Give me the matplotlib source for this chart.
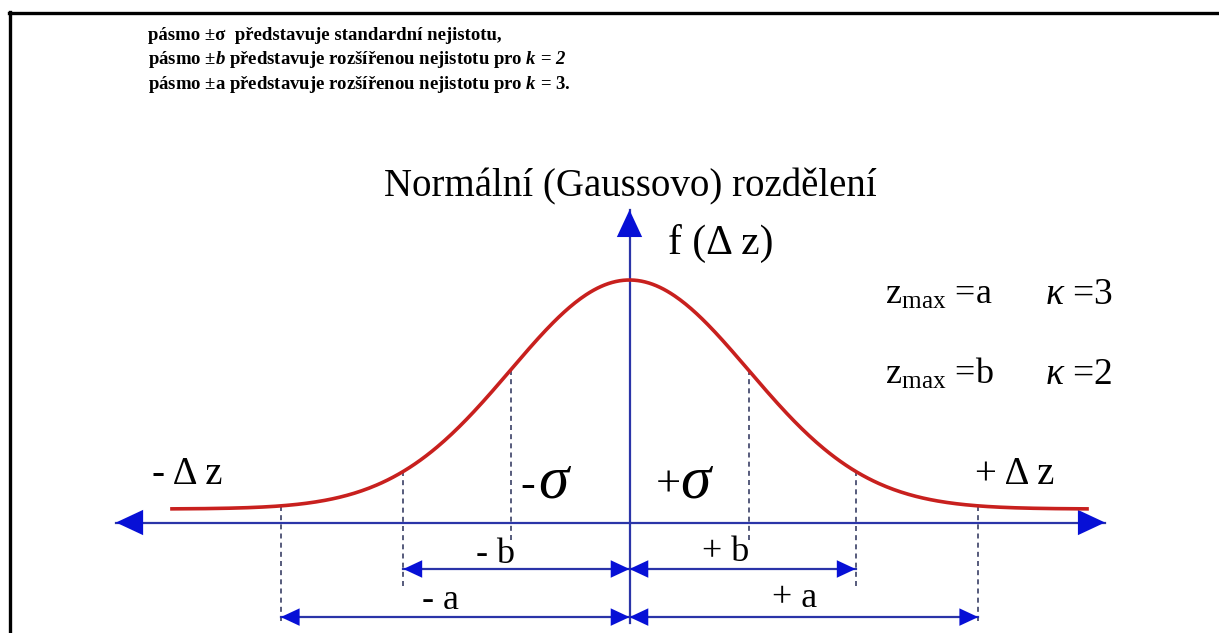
import numpy as np
import matplotlib.pyplot as plt
from matplotlib.lines import Line2D

plt.rcParams['mathtext.fontset'] = 'custom'
plt.rcParams['mathtext.rm'] = 'Liberation Serif'
plt.rcParams['mathtext.it'] = 'Liberation Serif:italic'
plt.rcParams['mathtext.bf'] = 'Liberation Serif:bold'
plt.rcParams['mathtext.bfit'] = 'Liberation Serif:bold:italic'

#----text of the picture----
header_lines = [
    "pásmo ±σ  představuje standardní nejistotu,",
    r"pásmo ±$\mathbfit{b}$ představuje rozšířenou nejistotu pro $\mathbfit{k}$ = $\mathbfit{2}$",
    r"pásmo ±a představuje rozšířenou nejistotu pro $\mathbfit{k}$ = 3.",
]
title = "Normální (Gaussovo) rozdělení"
ylabel = "f (Δ z)"
rule_lines = [r"$\mathrm{z}_{\mathrm{max}}$ =a", r"$\mathrm{z}_{\mathrm{max}}$ =b"]
kappa_lines = [r"$\kappa$ =3", r"$\kappa$ =2"]

#----band limits in units of sigma----
sigma_pos = 1.0
b_pos = 1.9
a_pos = 2.93
z_end = 3.86   # where the red curve stops

# normal (Gauss) density, scaled to peak = 1
z = np.linspace(-z_end, z_end, 500)
f = np.exp(-z ** 2 / 2)

W, H = 1219, 633
fig = plt.figure(figsize=(W / 100, H / 100), dpi=100)
ax = fig.add_axes([0, 0, 1, 1])
ax.axis('off')

# pixel -> data scale of the drawing
x0, xu = 629.5, 119.0
y0, yu = 509.0, 229.0
ax.set_xlim((0 - x0) / xu, (W - x0) / xu)
ax.set_ylim((y0 - H) / yu, (y0 - 0) / yu)

line_blue = '#2b35a8'
head_blue = '#0710d6'
dash_col = '#3a3f66'

axis_y = -0.059
ax_left, ax_right = -4.315, 3.996
ax_top, ax_bottom = 1.306, -0.498
row_b, row_a = -0.262, -0.472

def head(x_from, y_from, x_to, y_to, ms=22):
    ax.annotate('', xy=(x_to, y_to), xytext=(x_from, y_from),
                arrowprops=dict(arrowstyle='-|>,head_length=0.75,head_width=0.35',
                                color=head_blue, lw=0.01, shrinkA=0, shrinkB=0,
                                mutation_scale=ms))

# main axes
ax.plot([ax_left, ax_right], [axis_y, axis_y], color=line_blue, lw=1.6, zorder=2)
ax.plot([0, 0], [ax_bottom, ax_top], color=line_blue, lw=1.6, zorder=2)
head(ax_left + 0.25, axis_y, ax_left, axis_y, ms=26)
head(ax_right - 0.25, axis_y, ax_right, axis_y, ms=26)
head(0, ax_top - 0.12, 0, ax_top, ms=26)

# gauss curve
ax.plot(z, f, color='#c8201e', lw=2.6, zorder=3, solid_capstyle='butt')

# dashed verticals
dash_bottoms = {sigma_pos: -0.135, b_pos: -0.345, a_pos: -0.507}
for p, yb in dash_bottoms.items():
    for s in (-1, 1):
        ax.plot([s * p, s * p], [np.exp(-p ** 2 / 2), yb], color=dash_col,
                lw=1.2, ls=(0, (3, 2.5)), zorder=1)

# dimension arrows
for p, yr in ((b_pos, row_b), (a_pos, row_a)):
    for s in (-1, 1):
        ax.plot([0, s * p], [yr, yr], color=line_blue, lw=1.6, zorder=2)
        head(s * p * 0.5, yr, 0, yr, ms=18)
        head(s * p * 0.5, yr, s * p, yr, ms=18)

def ftext(px, py, s, **kw):
    kw.setdefault('family', 'Liberation Serif')
    fig.text(px / W, 1 - py / H, s, **kw)

# header
for i, t in enumerate(header_lines):
    ftext(148, 40 + 24.5 * i, t, fontsize=13.5, fontweight='bold', va='baseline')

ftext(630, 196, title, fontsize=28, ha='center', va='baseline')
ftext(668, 254, ylabel, fontsize=30, va='baseline')

for i in range(2):
    ftext(885, 304 + 80 * i, rule_lines[i], fontsize=26, va='baseline')
    ftext(1045, 304 + 80 * i, kappa_lines[i], fontsize=27, va='baseline')

ftext(152, 484, "- Δ z", fontsize=28, va='baseline')
ftext(975, 484, "+ Δ z", fontsize=28, va='baseline')

# sigma labels
ftext(520, 497, "-", fontsize=32, va='baseline')
ftext(538, 497, "σ", fontsize=44, style='italic', va='baseline')
ftext(656, 497, "+", fontsize=32, va='baseline')
ftext(680, 497, "σ", fontsize=44, style='italic', va='baseline')

ftext(496, 563, "- b", fontsize=26, ha='center', va='baseline')
ftext(726, 561, "+ b", fontsize=26, ha='center', va='baseline')
ftext(440, 609, "- a", fontsize=26, ha='center', va='baseline')
ftext(795, 607, "+ a", fontsize=26, ha='center', va='baseline')

# frame
fig.add_artist(Line2D([9 / W, 1], [1 - 13 / H] * 2, color='black', lw=2.4,
                      transform=fig.transFigure))
fig.add_artist(Line2D([9.5 / W] * 2, [0, 1 - 12 / H], color='black', lw=2.4,
                      transform=fig.transFigure))

fig.savefig('out.png', dpi=100, facecolor='white')
